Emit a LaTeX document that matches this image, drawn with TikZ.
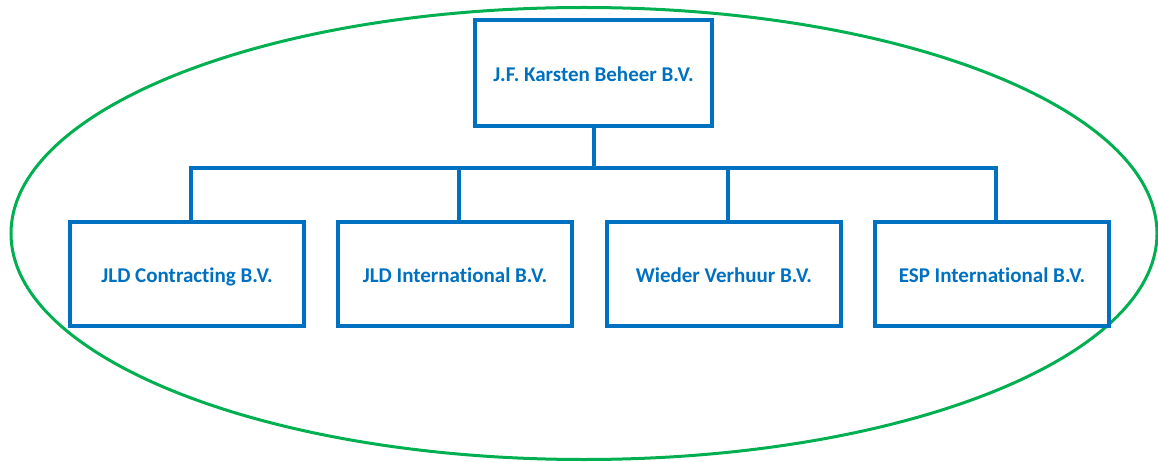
\documentclass[tikz,border=0pt]{standalone}
\usepackage{fontspec}
\setmainfont{Carlito}[RawFeature=-liga]
\definecolor{orgblue}{HTML}{0070C0}
\definecolor{orggreen}{HTML}{00B050}
\tikzset{
  orgbox/.style={draw=orgblue, line width=4.5pt, minimum width=234pt, minimum height=104pt,
    inner sep=0pt, font=\fontsize{21}{24}\selectfont\bfseries, text=orgblue, text depth=0pt},
  topbox/.style={orgbox, minimum width=237pt, minimum height=106pt},
  link/.style={draw=orgblue, line width=4pt},
}
\begin{document}
\begin{tikzpicture}[x=1pt,y=-1pt]
\useasboundingbox (0,0) rectangle (1158,462);
\draw[orggreen, line width=3pt] (584,233.5) ellipse [x radius=573pt, y radius=226pt];
\node[topbox] (top) at (593.5,73) {\raisebox{-3pt}{J.F. Karsten Beheer B.V.}};
\node[orgbox] (b1) at (187,274) {\raisebox{-3pt}{JLD Contracting B.V.}};
\node[orgbox] (b2) at (455,274) {\raisebox{-3pt}{JLD International B.V.}};
\node[orgbox] (b3) at (724,274) {\raisebox{-3pt}{Wieder Verhuur B.V.}};
\node[orgbox] (b4) at (992,274) {\raisebox{-3pt}{ESP International B.V.}};
\coordinate (bus) at (593.5,168);
\draw[link] (top.south) -- (bus);
\draw[link] ([xshift=3.5pt]b1.north) |- (bus) -| ([xshift=3.5pt]b4.north);
\draw[link] ([xshift=3.5pt]b2.north) -- ([xshift=3.5pt]b2.north |- bus);
\draw[link] ([xshift=3.5pt]b3.north) -- ([xshift=3.5pt]b3.north |- bus);
\end{tikzpicture}
\end{document}
